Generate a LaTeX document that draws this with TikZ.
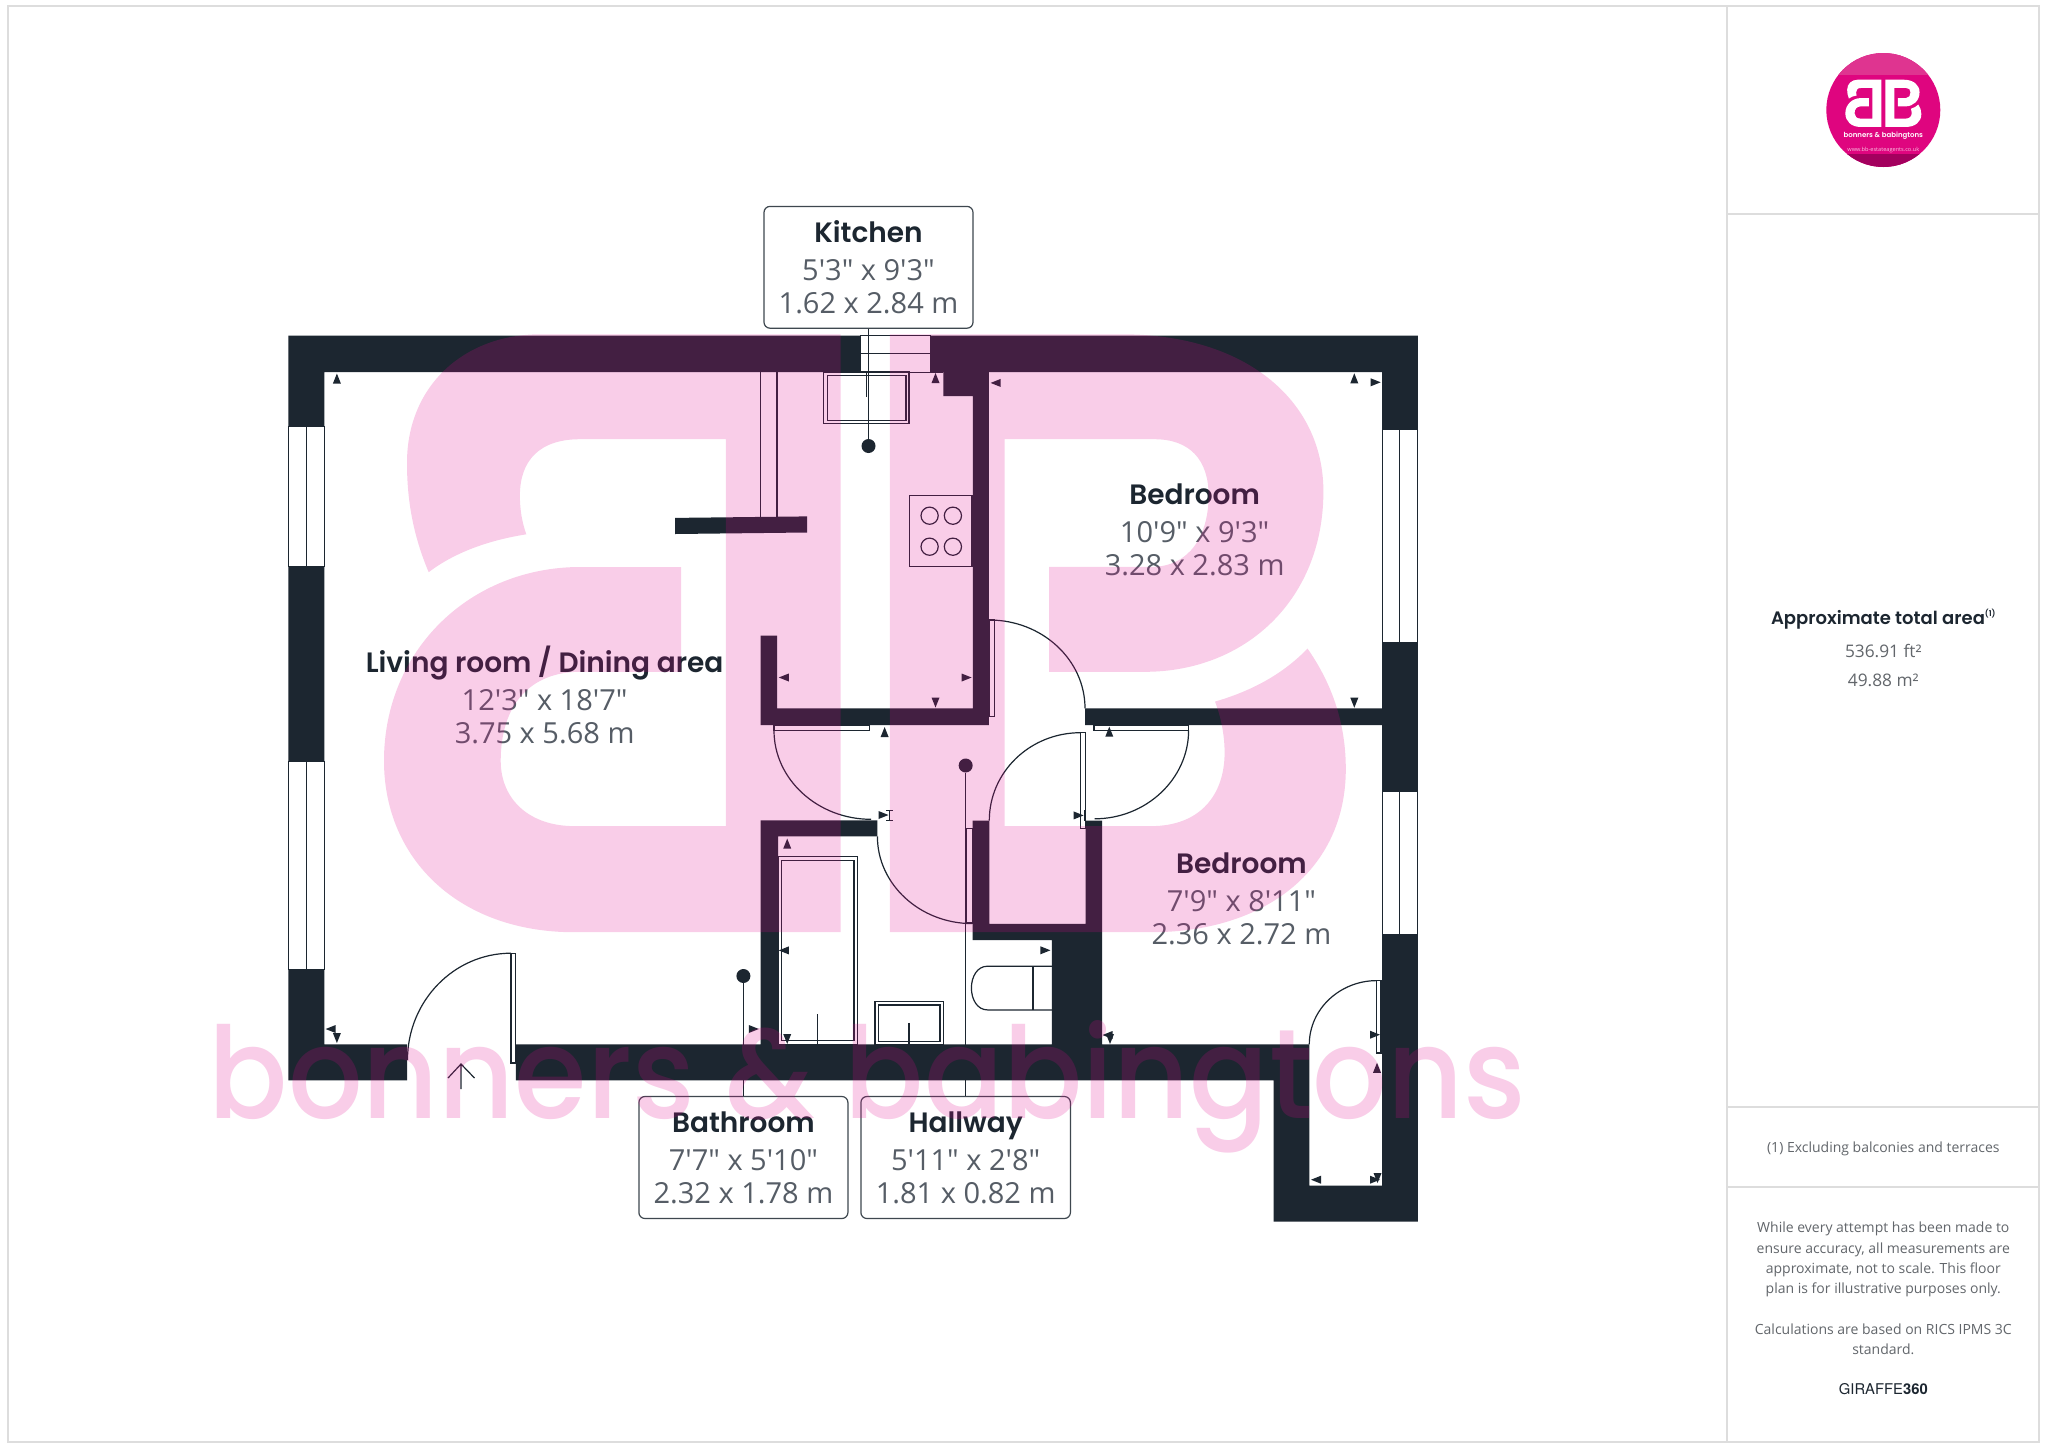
\documentclass[tikz,border=0pt]{standalone}
\usepackage{fontspec}
\usepackage{graphicx}
\setmainfont{Open Sans}
\newfontfamily\dimfont{Open Sans}
\newfontfamily\headfont{Poppins SemiBold}
\newfontfamily\wmfont{Poppins Medium}
\newfontfamily\gifont{TeX Gyre Heros}
\definecolor{wallc}{HTML}{1C2630}
\definecolor{dimc}{HTML}{565D66}
\definecolor{framec}{HTML}{DDDDDD}
\definecolor{greyt}{HTML}{62666B}
\definecolor{wmc}{HTML}{E1058C}
\definecolor{logoc}{HTML}{DF057F}
\definecolor{logot}{HTML}{DF3490}
\definecolor{logob}{HTML}{A3005E}
\newcommand\fsz[1]{\fontsize{#1pt}{#1pt}\selectfont}
\tikzset{
  thin line/.style={draw=wallc,line width=1.2pt},
  wallfill/.style={fill=wallc},
  windowpane/.style={fill=white,draw=wallc,line width=1pt},
  titletxt/.style={anchor=base,inner sep=0pt,text=wallc,font=\headfont\fsz{28}},
  dimtxt/.style={anchor=base,inner sep=0pt,text=dimc,font=\dimfont\fsz{29}},
  labelbox/.style={draw=wallc!85!white,line width=1.2pt,rounded corners=6pt,fill=white,inner sep=0pt},
  pindot/.style={circle,fill=wallc,inner sep=0pt,minimum size=14pt},
  sidetxt/.style={anchor=base,inner sep=0pt,text=greyt,font=\dimfont\fsz{14}},
  frameline/.style={draw=framec,line width=2pt},
  tickmark/.style={fill=wallc}
}
% x, baseline, text
\newcommand\rlabel[6]{%
  \node[titletxt] (#1t) at (#2,#3) {#4};
  \node[dimtxt] (#1a) at (#2,#3+38) {#5};
  \node[dimtxt] (#1b) at (#2,#3+71) {#6};
}
\newcommand\tu[2]{\fill[tickmark] (#1,#2-5) -- (#1+4,#2+5) -- (#1-4,#2+5) -- cycle;}
\newcommand\td[2]{\fill[tickmark] (#1,#2+5) -- (#1+4,#2-5) -- (#1-4,#2-5) -- cycle;}
\newcommand\tl[2]{\fill[tickmark] (#1-5,#2) -- (#1+5,#2-4) -- (#1+5,#2+4) -- cycle;}
\newcommand\tr[2]{\fill[tickmark] (#1+5,#2) -- (#1-5,#2-4) -- (#1-5,#2+4) -- cycle;}
\newcommand\wmpath{
 (840.7,334.3) -- (840.7,932.2) -- (574,932.2)
 .. controls (460,932.2) and (384,860) .. (384,760.8)
 .. controls (384,650) and (470,567) .. (580.5,567)
 -- (681.2,567) -- (681.2,671.8) -- (580,671.8)
 .. controls (530,671.8) and (500.7,705) .. (500.7,760.8)
 .. controls (500.7,800) and (530,826.1) .. (574,826.1)
 -- (725.9,826.1) -- (725.9,439.2) -- (580,439.2)
 .. controls (540,439.2) and (519.9,460) .. (519.9,495.5)
 .. controls (519.9,510) and (522,522) .. (526.3,534.3)
 .. controls (490,540) and (455,552) .. (428.7,572.2)
 .. controls (413,535) and (407,500) .. (407,462.9)
 .. controls (407,385) and (465,334.3) .. (540,334.3)
 -- cycle
 (889.8,334.3) -- (1122.6,334.3)
 .. controls (1245,334.3) and (1323.4,400) .. (1323.4,491.4)
 .. controls (1323.4,600) and (1245,671.8) .. (1144.9,671.8)
 -- (1049.2,671.8) -- (1049.2,566.9) -- (1151.2,566.9)
 .. controls (1190,566.9) and (1208.6,535) .. (1208.6,495.5)
 .. controls (1208.6,460) and (1190,439.2) .. (1154.4,439.2)
 -- (1004.6,439.2) -- (1004.6,826.1) -- (1151.2,826.1)
 .. controls (1200,826.1) and (1224.6,795) .. (1224.6,752.7)
 .. controls (1224.6,735) and (1221,717) .. (1215,701.6)
 .. controls (1255,690) and (1285,672) .. (1307.5,648.6)
 .. controls (1333,685) and (1345.8,725) .. (1345.8,769)
 .. controls (1345.8,870) and (1265,932.2) .. (1151.2,932.2)
 -- (889.8,932.2) -- cycle }
\begin{document}
\begin{tikzpicture}[x=1pt,y=-1pt]
\useasboundingbox (0,0) rectangle (2048,1446);
\fill[white] (0,0) rectangle (2048,1446);
% frame
\draw[frameline] (8,6) rectangle (2039.3,1441.7);
\draw[frameline] (1726.7,6) -- (1726.7,1441.7);
\draw[frameline] (1726.7,214) -- (2039.3,214);
\draw[frameline] (1726.7,1106.7) -- (2039.3,1106.7);
\draw[frameline] (1726.7,1187.3) -- (2039.3,1187.3);
% walls
\fill[wallfill]
 (288.4,335.7) rectangle (860.4,372)
 (930.7,335.7) rectangle (1417.9,372)
 (943.3,372) rectangle (972.9,396)
 (972.9,372) rectangle (988.9,725)
 (760.5,708.3) rectangle (988.9,725)
 (760.5,635.7) rectangle (777,725)
 (288.4,335.7) rectangle (324.3,426.4)
 (288.4,566.8) rectangle (324.3,761.4)
 (288.4,969.3) rectangle (324.3,1080.4)
 (288.4,1044.3) rectangle (407.2,1080.4)
 (515.8,1044.3) rectangle (1309.3,1080.4)
 (1273.6,1044.3) rectangle (1309.3,1221.7)
 (1273.6,1185.5) rectangle (1417.9,1221.7)
 (1382,335.7) rectangle (1417.9,429.3)
 (1382,642.7) rectangle (1417.9,791.3)
 (1382,934.9) rectangle (1417.9,1221.7)
 (1085,708.3) rectangle (1382,725)
 (760.5,820.4) rectangle (877.4,836.4)
 (760.5,820.4) rectangle (778,1044.3)
 (972.5,820.5) rectangle (989.3,940)
 (972.5,923.8) rectangle (1102,940)
 (1085.7,820.5) rectangle (1102,1044.4)
 (1051.8,923.8) rectangle (1102,1044.4)
 (675.2,517.9) -- (807,516.4) -- (807,532.5) -- (675.2,534) -- cycle;
% windows
\draw[windowpane] (288.4,426.4) rectangle (324.3,566.8);
\draw[thin line] (306.4,426.4) -- (306.4,566.8);
\draw[windowpane] (288.4,761.4) rectangle (324.3,969.3);
\draw[thin line] (306.4,761.4) -- (306.4,969.3);
\draw[windowpane] (1382,429.3) rectangle (1417.9,642.7);
\draw[thin line] (1399.3,429.3) -- (1399.3,642.7);
\draw[windowpane] (1382,791.3) rectangle (1417.9,934.9);
\draw[thin line] (1399.3,791.3) -- (1399.3,934.9);
\draw[windowpane] (860.4,335.7) rectangle (930.7,372);
\draw[thin line] (860.4,353.6) -- (930.7,353.6);
\draw[thin line] (930.7,372) -- (943.3,372);
% kitchen fittings
\draw[thin line] (760.5,372) -- (760.5,516.8) (777,372) -- (777,516.8);
\draw[thin line] (823.6,372) rectangle (908.9,423.6);
\draw[thin line] (827.4,375.7) rectangle (906,420.4);
\draw[thin line] (866.7,372) -- (866.7,397);
\draw[thin line] (909.8,495.5) rectangle (972,566.8);
\foreach \cx in {929.6,952.9} \foreach \cy in {515.7,546.7}
  \draw[thin line] (\cx,\cy) circle[radius=8.6];
% bathroom fittings
\draw[thin line] (778,856.8) rectangle (857.5,1044.3);
\draw[thin line] (781.4,860.4) rectangle (854,1040.7);
\draw[thin line] (817.7,1014) -- (817.7,1044.3);
\draw[thin line] (875,1001.4) rectangle (943.8,1044.3);
\draw[thin line] (878.8,1005) rectangle (940,1041.4);
\draw[thin line] (908.9,1022.9) -- (908.9,1044.3);
\draw[thin line] (1051.8,966.2) -- (987.5,966.2) .. controls (977,966.2) and (971.4,977) .. (971.4,988)
  .. controls (971.4,999) and (977,1009.9) .. (987.5,1009.9) -- (1051.8,1009.9);
\draw[thin line] (1032.9,966.2) -- (1032.9,1009.9);
% doors
\draw[thin line] (510.9,953.2) rectangle (515.8,1062.9);
\draw[thin line] (407.5,1060) .. controls (407.5,1001) and (454,953.2) .. (511,953.2);
\draw[thin line] (774,725.4) rectangle (869.6,730.7);
\draw[thin line] (774,730.5) .. controls (774,779.3) and (817.6,819.3) .. (871,819.3);
\draw[thin line] (966.6,828.2) rectangle (972.4,923);
\draw[thin line] (877.4,836.4) .. controls (877.4,884.4) and (920,923.6) .. (972.4,923.6);
\draw[thin line] (989.3,620) rectangle (994.6,716.7);
\draw[thin line] (989.3,620) .. controls (1042,620) and (1085,659.7) .. (1085,708.3);
\draw[thin line] (1080.4,732.7) rectangle (1085.7,828.1);
\draw[thin line] (989.3,820.5) .. controls (989.3,772) and (1030,732.7) .. (1080.4,732.7);
\draw[thin line] (1094,725.8) rectangle (1188.6,730.3);
\draw[thin line] (1188.6,730.3) .. controls (1188.6,779) and (1146,818.8) .. (1094.6,818.8);
\draw[thin line] (1376.8,980.6) rectangle (1381,1053);
\draw[thin line] (1309.3,1044.4) .. controls (1309.3,1009) and (1340,980.6) .. (1376.8,980.6);
\draw[thin line] (461,1089) -- (461,1064) (448,1078) -- (461,1064) -- (474.5,1078);
% small markers
\tu{336.9}{378.6} \tu{935.5}{378} \tl{995.6}{382.9} \tl{783.8}{677.5} \tr{966.6}{677.5}
\td{935.5}{702.5} \tu{884.6}{732} \tr{883.5}{815} \tu{787.2}{843.6} \tl{783.8}{950.4}
\tr{753.8}{1029} \td{787.2}{1039} \tl{330.6}{1029} \td{336.9}{1038} \tu{1354.3}{378.3}
\tr{1375.7}{382.3} \td{1354.3}{702.7} \tu{1109.3}{731.7} \tr{1078.6}{815.4} \tr{1045.4}{950.3}
\tl{1107.5}{1035} \td{1110}{1039} \tr{1375}{1034.7} \tu{1377}{1067.8} \tl{1316}{1179.7}
\tr{1375}{1179.7} \td{1377.5}{1178}
\draw[thin line,line width=.9pt] (886,810) -- (893,810) (886,820) -- (893,820) (889.5,810) -- (889.5,820);
\draw[thin line,line width=.9pt] (1084,810) -- (1084,821);
% label boxes and pins
\node[labelbox,minimum width=209pt,minimum height=121.8pt] (kitchenbox) at (868.5,267.3) {};
\node[labelbox,minimum width=209pt,minimum height=122pt] (bathbox) at (743.4,1157.5) {};
\node[labelbox,minimum width=209.5pt,minimum height=122pt] (hallbox) at (965.65,1157.5) {};
\node[pindot] (kitchendot) at (868.5,446) {};
\node[pindot] (bathdot) at (743.4,976) {};
\node[pindot] (halldot) at (965.65,765.5) {};
\draw[thin line] (kitchenbox.south) -- (kitchendot);
\draw[thin line] (bathdot) -- (bathbox.north);
\draw[thin line] (halldot) -- (hallbox.north);
% room texts
\rlabel{kit}{868.5}{242.5}{Kitchen}{5'3" x 9'3"}{1.62 x 2.84 m}
\rlabel{liv}{544.6}{672.6}{Living room / Dining area}{12'3" x 18'7"}{3.75 x 5.68 m}
\rlabel{bedA}{1194.6}{504.3}{Bedroom}{10'9" x 9'3"}{3.28 x 2.83 m}
\rlabel{bedB}{1241.4}{873.3}{Bedroom}{7'9" x 8'11"}{2.36 x 2.72 m}
\rlabel{bath}{743.4}{1132.5}{Bathroom}{7'7" x 5'10"}{2.32 x 1.78 m}
\rlabel{hall}{965.65}{1132.5}{Hallway}{5'11" x 2'8"}{1.81 x 0.82 m}
% side panel
\fill[logoc] (1883.3,110) circle[radius=57];
\begin{scope}
 \clip (1883.3,110) circle[radius=57];
 \fill[logot] (1820,50) rectangle (1950,75);
 \fill[logob] (1820,154) rectangle (1950,170);
\end{scope}
\begin{scope}[shift={(1815,53.3)},scale=.079]
 \fill[white,even odd rule] \wmpath;
\end{scope}
\node[anchor=base,inner sep=0pt,text=white,font=\headfont\fsz{7}] (logoname) at (1883.3,137) {bonners \& babingtons};
\node[anchor=base,inner sep=0pt,text=white!75!logoc,font=\dimfont\fsz{5.6}] (logoweb) at (1883.3,151) {www.bb-estateagents.co.uk};
\node[anchor=base,inner sep=0pt,text=wallc,font=\headfont\fsz{18}] (areat) at (1883.3,624) {Approximate total area\raisebox{8pt}{\fsz{8}(1)}};
\node[sidetxt,font=\dimfont\fsz{17.3}] (areaa) at (1883.3,657.5) {536.91 ft²};
\node[sidetxt,font=\dimfont\fsz{17.3}] (areab) at (1883.3,686.5) {49.88 m²};
\node[sidetxt] (note) at (1883.3,1152.7) {(1) Excluding balconies and terraces};
\node[sidetxt] (d1) at (1883.3,1232.7) {While every attempt has been made to};
\node[sidetxt] (d2) at (1883.3,1253.3) {ensure accuracy, all measurements are};
\node[sidetxt] (d3) at (1883.3,1273.7) {approximate, not to scale. This floor};
\node[sidetxt] (d4) at (1883.3,1293.7) {plan is for illustrative purposes only.};
\node[sidetxt] (d5) at (1883.3,1334.3) {Calculations are based on RICS IPMS 3C};
\node[sidetxt] (d6) at (1883.3,1354.3) {standard.};
\node[anchor=base,inner sep=0pt,text=wallc,font=\gifont\fsz{14.8}] (gi) at (1883.3,1394.3) {GIRAFFE\textbf{360}};
% watermark
\fill[wmc,opacity=.2,even odd rule] \wmpath;
\node[anchor=base,inner sep=0pt,text=wmc,text opacity=.2] (wmtext) at (867.4,1118) {\resizebox{1317pt}{98pt}{\wmfont\fsz{120}bonners \& babingtons}};
\end{tikzpicture}
\end{document}
